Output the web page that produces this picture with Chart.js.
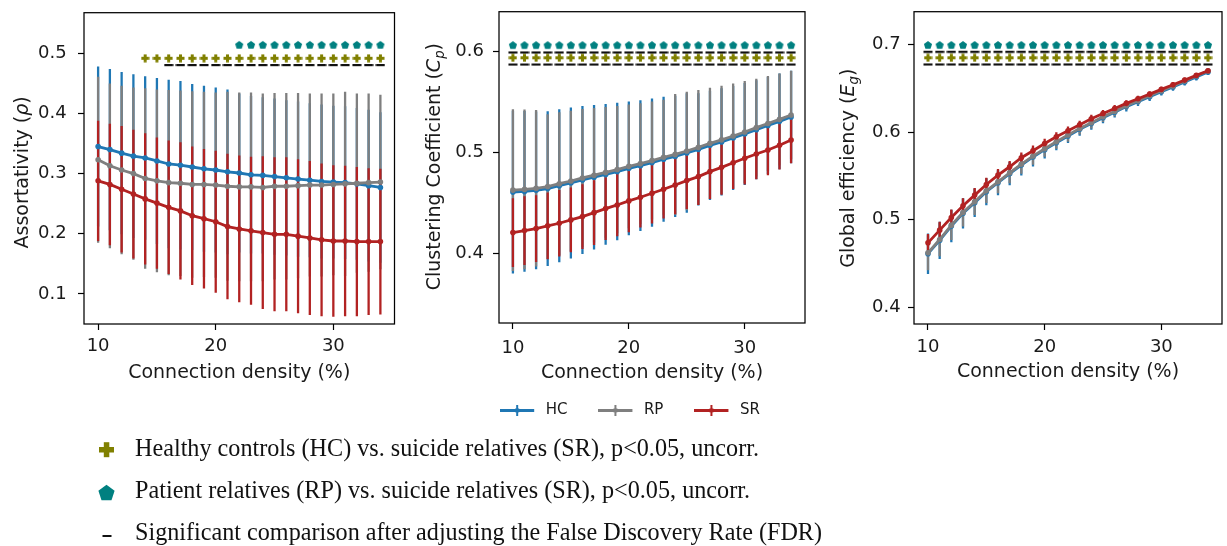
<!DOCTYPE html>
<html>
<head>
<meta charset="utf-8">
<script src="https://cdn.jsdelivr.net/npm/chart.js@4.4.1/dist/chart.umd.min.js"></script>
<style>
  body { margin: 0; background: #fff; }
  #page { position: relative; width: 1227px; height: 546px; overflow: hidden; background: #fff; }
  .panel { position: absolute; top: 0; }
  #notes { position: absolute; left: 0; top: 420px; }
</style>
</head>
<body>
<div id="page">
  <div class="panel" style="left:0;width:400px;height:395px"><canvas id="assort"></canvas></div>
  <div class="panel" style="left:410px;width:400px;height:428px"><canvas id="cluster"></canvas></div>
  <div class="panel" style="left:820px;width:407px;height:395px"><canvas id="globalEff"></canvas></div>
  <svg id="notes" width="900" height="126" xmlns="http://www.w3.org/2000/svg">
    <rect x="99" y="27" width="15" height="5.5" fill="#808000"/>
    <rect x="103.8" y="22.2" width="5.5" height="15" fill="#808000"/>
    <polygon points="106.5,64.8 114.6,70.7 111.5,80.2 101.5,80.2 98.4,70.7" fill="#008080"/>
    <rect x="102.5" y="115" width="9" height="2" fill="#111"/>
    <g font-family="'Liberation Serif', 'Times New Roman', serif" font-size="26" fill="#111">
      <text x="135" y="36" textLength="624" lengthAdjust="spacingAndGlyphs">Healthy controls (HC) vs. suicide relatives (SR), p&lt;0.05, uncorr.</text>
      <text x="135" y="78" textLength="615" lengthAdjust="spacingAndGlyphs">Patient relatives (RP) vs. suicide relatives (SR), p&lt;0.05, uncorr.</text>
      <text x="135" y="120" textLength="687" lengthAdjust="spacingAndGlyphs">Significant comparison after adjusting the False Discovery Rate (FDR)</text>
    </g>
  </svg>
</div>
<script>
// connection density (%), shared by all panels
const density = [10, 11, 12, 13, 14, 15, 16, 17, 18, 19, 20, 21, 22, 23, 24, 25, 26, 27, 28, 29, 30, 31, 32, 33, 34];
const xTicks = [10, 20, 30];

// Assortativity
const assortHC = [0.345, 0.340, 0.334, 0.329, 0.326, 0.321, 0.316, 0.314, 0.311, 0.308, 0.306, 0.303, 0.301, 0.298, 0.297, 0.295, 0.293, 0.291, 0.289, 0.287, 0.286, 0.285, 0.283, 0.280, 0.277];
const assortHCErr = [0.133, 0.134, 0.135, 0.136, 0.136, 0.138, 0.140, 0.140, 0.138, 0.138, 0.137, 0.137, 0.132, 0.131, 0.130, 0.130, 0.129, 0.129, 0.128, 0.128, 0.127, 0.127, 0.126, 0.126, 0.125];
const assortRP = [0.323, 0.313, 0.306, 0.300, 0.292, 0.288, 0.285, 0.284, 0.282, 0.282, 0.281, 0.279, 0.278, 0.278, 0.277, 0.279, 0.279, 0.280, 0.281, 0.281, 0.282, 0.283, 0.284, 0.285, 0.286];
const assortRPErr = [0.138, 0.137, 0.140, 0.143, 0.150, 0.152, 0.154, 0.154, 0.155, 0.154, 0.154, 0.157, 0.157, 0.157, 0.156, 0.155, 0.155, 0.154, 0.152, 0.152, 0.151, 0.153, 0.149, 0.148, 0.145];
const assortSR = [0.288, 0.282, 0.274, 0.266, 0.258, 0.251, 0.244, 0.238, 0.230, 0.225, 0.220, 0.212, 0.208, 0.205, 0.202, 0.199, 0.199, 0.196, 0.193, 0.190, 0.188, 0.188, 0.187, 0.187, 0.187];
const assortSRErr = [0.100, 0.101, 0.105, 0.107, 0.109, 0.109, 0.111, 0.114, 0.115, 0.116, 0.118, 0.121, 0.122, 0.123, 0.127, 0.128, 0.128, 0.128, 0.128, 0.127, 0.126, 0.125, 0.124, 0.122, 0.121];
const assortSigHcSr = [14, 15, 16, 17, 18, 19, 20, 21, 22, 23, 24, 25, 26, 27, 28, 29, 30, 31, 32, 33, 34];
const assortSigRpSr = [22, 23, 24, 25, 26, 27, 28, 29, 30, 31, 32, 33, 34];
const assortFdrHcSr = [16, 17, 18, 19, 20, 21, 22, 23, 24, 25, 26, 27, 28, 29, 30, 31, 32, 33, 34];
const assortTicks = [0.1, 0.2, 0.3, 0.4, 0.5];

// Clustering coefficient
const clusterHC = [0.4605, 0.4612, 0.4623, 0.4640, 0.4668, 0.4695, 0.4725, 0.4752, 0.4780, 0.4808, 0.4840, 0.4867, 0.4897, 0.4930, 0.4958, 0.4992, 0.5028, 0.5068, 0.5102, 0.5140, 0.5180, 0.5223, 0.5264, 0.5305, 0.5348];
const clusterHCErr = [0.0805, 0.0795, 0.0780, 0.0766, 0.0758, 0.0746, 0.0733, 0.0715, 0.0697, 0.0680, 0.0662, 0.0647, 0.0634, 0.0618, 0.0600, 0.0590, 0.0556, 0.0540, 0.0530, 0.0514, 0.0504, 0.0490, 0.0480, 0.0474, 0.0458];
const clusterRP = [0.4625, 0.4632, 0.4643, 0.4660, 0.4688, 0.4715, 0.4745, 0.4772, 0.4800, 0.4828, 0.4860, 0.4887, 0.4917, 0.4950, 0.4978, 0.5012, 0.5048, 0.5088, 0.5122, 0.5160, 0.5200, 0.5243, 0.5284, 0.5325, 0.5368];
const clusterRPErr = [0.0800, 0.0790, 0.0775, 0.0716, 0.0708, 0.0696, 0.0683, 0.0665, 0.0647, 0.0630, 0.0612, 0.0597, 0.0584, 0.0568, 0.0597, 0.0586, 0.0567, 0.0550, 0.0535, 0.0520, 0.0504, 0.0484, 0.0469, 0.0454, 0.0438];
const clusterSR = [0.4205, 0.4225, 0.4244, 0.4271, 0.4297, 0.4330, 0.4363, 0.4402, 0.4442, 0.4478, 0.4518, 0.4554, 0.4594, 0.4633, 0.4676, 0.4719, 0.4758, 0.4808, 0.4850, 0.4896, 0.4940, 0.4982, 0.5022, 0.5068, 0.5120];
const clusterSRErr = [0.034, 0.034, 0.033, 0.033, 0.033, 0.032, 0.032, 0.032, 0.031, 0.031, 0.031, 0.030, 0.030, 0.029, 0.029, 0.028, 0.028, 0.027, 0.027, 0.026, 0.026, 0.025, 0.025, 0.024, 0.023];
const clusterTicks = [0.4, 0.5, 0.6];

// Global efficiency
const effHC = [0.4613, 0.4765, 0.4929, 0.5074, 0.5196, 0.5321, 0.5424, 0.5527, 0.5626, 0.5718, 0.5801, 0.5881, 0.5958, 0.6034, 0.6099, 0.6167, 0.6228, 0.6293, 0.6350, 0.6407, 0.6464, 0.6518, 0.6575, 0.6632, 0.6689];
const effHCErr = [0.0232, 0.0214, 0.0185, 0.0172, 0.0163, 0.0154, 0.0143, 0.0133, 0.0120, 0.0110, 0.0100, 0.0086, 0.0080, 0.0075, 0.0070, 0.0065, 0.0060, 0.0055, 0.0050, 0.0050, 0.0045, 0.0045, 0.0040, 0.0040, 0.0035];
const effRP = [0.4623, 0.4775, 0.4939, 0.5084, 0.5206, 0.5331, 0.5434, 0.5537, 0.5636, 0.5728, 0.5811, 0.5891, 0.5968, 0.6044, 0.6109, 0.6177, 0.6238, 0.6303, 0.6360, 0.6417, 0.6474, 0.6528, 0.6585, 0.6642, 0.6699];
const effRPErr = [0.0200, 0.0190, 0.0170, 0.0160, 0.0150, 0.0140, 0.0130, 0.0120, 0.0110, 0.0100, 0.0090, 0.0080, 0.0075, 0.0070, 0.0065, 0.0060, 0.0055, 0.0050, 0.0045, 0.0045, 0.0040, 0.0040, 0.0035, 0.0035, 0.0030];
const effSR = [0.4737, 0.4882, 0.5027, 0.5160, 0.5282, 0.5404, 0.5510, 0.5606, 0.5709, 0.5789, 0.5872, 0.5949, 0.6017, 0.6086, 0.6154, 0.6215, 0.6272, 0.6330, 0.6383, 0.6436, 0.6490, 0.6543, 0.6596, 0.6650, 0.6703];
const effSRErr = [0.0100, 0.0095, 0.0090, 0.0085, 0.0080, 0.0075, 0.0070, 0.0065, 0.0060, 0.0060, 0.0055, 0.0050, 0.0050, 0.0045, 0.0045, 0.0040, 0.0040, 0.0035, 0.0035, 0.0030, 0.0030, 0.0030, 0.0030, 0.0025, 0.0025];
const effTicks = [0.4, 0.5, 0.6, 0.7];

const BLUE = '#1f77b4', GRAY = '#7f7f7f', RED = '#b22222', TEAL = '#008080', OLIVE = '#808000';
const TEXT = '#1a1a1a';
const FONT = 'DejaVu Sans';
const TITLE_SIZE = 19;

function offscreen(w, h, draw) {
  const c = document.createElement('canvas');
  c.width = w; c.height = h;
  draw(c.getContext('2d'));
  return c;
}
const pentagon = offscreen(10, 10, g => {
  g.fillStyle = TEAL;
  g.beginPath();
  for (let k = 0; k < 5; k++) {
    const a = -Math.PI / 2 + k * 2 * Math.PI / 5;
    g.lineTo(5 + 4.3 * Math.cos(a), 5.3 + 4.3 * Math.sin(a));
  }
  g.fill();
});
const plus = offscreen(9, 9, g => {
  g.fillStyle = OLIVE;
  g.fillRect(0.5, 3, 8, 3);
  g.fillRect(3, 0.5, 3, 8);
});
const dash = offscreen(10, 4, g => {
  g.fillStyle = '#111';
  g.fillRect(0.5, 1, 9, 2.2);
});
function legendIcon(color) {
  return offscreen(38, 15, g => {
    g.strokeStyle = color;
    g.lineWidth = 2.8;
    g.beginPath(); g.moveTo(0, 7.5); g.lineTo(34, 7.5); g.stroke();
    g.lineWidth = 2;
    g.beginPath(); g.moveTo(17, 2); g.lineTo(17, 13); g.stroke();
    g.fillStyle = color;
    g.beginPath(); g.arc(17, 7.5, 2.4, 0, 2 * Math.PI); g.fill();
  });
}

// error bars under the lines, frame and the mathtext-like y label
const panelExtras = {
  id: 'panelExtras',
  beforeDatasetsDraw(chart) {
    const {ctx, chartArea: a, scales: {x, y}} = chart;
    ctx.save();
    ctx.beginPath();
    ctx.rect(a.left, a.top, a.right - a.left, a.bottom - a.top);
    ctx.clip();
    ctx.lineWidth = 2.3;
    chart.data.datasets.forEach(ds => {
      if (!ds.errors) return;
      ctx.strokeStyle = ds.borderColor;
      ds.data.forEach((p, i) => {
        const px = x.getPixelForValue(p.x);
        ctx.beginPath();
        ctx.moveTo(px, y.getPixelForValue(p.y - ds.errors[i]));
        ctx.lineTo(px, y.getPixelForValue(p.y + ds.errors[i]));
        ctx.stroke();
      });
    });
    ctx.restore();
  },
  afterDraw(chart, args, opts) {
    const {ctx, chartArea: a} = chart;
    ctx.save();
    ctx.strokeStyle = '#000';
    ctx.lineWidth = 1.25;
    ctx.strokeRect(a.left, a.top, a.right - a.left, a.bottom - a.top);

    const base = TITLE_SIZE;
    const parts = opts.title.map(([text, kind]) => ({
      text,
      font: (kind === 'n' ? '' : 'italic ') + (kind === 'sub' ? base * 0.7 : base) + 'px "' + FONT + '"',
      shift: kind === 'sub' ? base * 0.25 : 0
    }));
    let total = 0;
    parts.forEach(p => { ctx.font = p.font; p.w = ctx.measureText(p.text).width; total += p.w; });
    ctx.translate(opts.titleX, (a.top + a.bottom) / 2 + opts.titleDy);
    ctx.rotate(-Math.PI / 2);
    ctx.fillStyle = TEXT;
    ctx.textBaseline = 'alphabetic';
    ctx.textAlign = 'left';
    let u = -total / 2;
    parts.forEach(p => { ctx.font = p.font; ctx.fillText(p.text, u, 6.3 + p.shift); u += p.w; });
    ctx.restore();
  }
};

function buildPanel(id, cfg) {
  const series = [
    {label: 'HC', color: BLUE, mean: cfg.hc, err: cfg.hcErr},
    {label: 'RP', color: GRAY, mean: cfg.rp, err: cfg.rpErr},
    {label: 'SR', color: RED, mean: cfg.sr, err: cfg.srErr}
  ];
  const datasets = series.map((s, i) => ({
    label: s.label,
    data: density.map((d, k) => ({x: d, y: s.mean[k]})),
    errors: s.err,
    legendIcon: legendIcon(s.color),
    borderColor: s.color,
    backgroundColor: s.color,
    borderWidth: 2.8,
    pointRadius: 2.8,
    pointBorderWidth: 0,
    pointBackgroundColor: s.color,
    tension: 0,
    order: 3 - i
  }));
  cfg.marks.forEach(m => datasets.push({
    label: '',
    data: m.xs.map(v => ({x: v, y: m.level})),
    showLine: false,
    pointStyle: m.style,
    pointRadius: 4,
    order: 0
  }));
  const L = cfg.layout;
  const noPad = s => { s.paddingLeft = 0; s.paddingRight = 0; s.paddingTop = 0; s.paddingBottom = 0; };
  const tickGrid = {drawOnChartArea: false, drawTicks: true, tickLength: 6, tickWidth: 1.2, tickColor: '#000'};

  return new Chart(document.getElementById(id), {
    type: 'line',
    data: {datasets},
    plugins: [panelExtras],
    options: {
      responsive: true,
      maintainAspectRatio: false,
      animation: false,
      events: [],
      layout: {padding: {left: L.padLeft, top: L.padTop, right: L.padRight, bottom: 0}},
      scales: {
        x: {
          type: 'linear',
          min: 8.8, max: 35.2,
          afterBuildTicks: s => { s.ticks = xTicks.map(v => ({value: v})); },
          afterFit: s => { s.height = L.xHeight; noPad(s); },
          grid: tickGrid,
          border: {display: false},
          ticks: {font: {family: FONT, size: 18}, color: TEXT, padding: L.xTickPad, maxRotation: 0, autoSkip: false,
                  callback: v => String(v)},
          title: {display: true, text: 'Connection density (%)', color: TEXT,
                  font: {family: FONT, size: TITLE_SIZE}, padding: {top: 0, bottom: L.xTitlePad}}
        },
        y: {
          type: 'linear',
          min: cfg.yMin, max: cfg.yMax,
          afterBuildTicks: s => { s.ticks = cfg.yTicks.map(v => ({value: v})); },
          afterFit: s => { s.width = L.yWidth; noPad(s); },
          grid: tickGrid,
          border: {display: false},
          ticks: {font: {family: FONT, size: 18}, color: TEXT, padding: L.yTickPad, callback: v => v.toFixed(1)}
        }
      },
      plugins: {
        tooltip: {enabled: false},
        panelExtras: {title: cfg.title, titleX: L.titleX, titleDy: L.titleDy},
        legend: {
          display: !!cfg.legend,
          position: 'bottom',
          align: 'center',
          labels: {
            usePointStyle: true,
            pointStyleWidth: 38,
            padding: 31,
            color: TEXT,
            font: {family: FONT, size: 15},
            generateLabels: chart => chart.data.datasets
              .filter(ds => ds.legendIcon)
              .map(ds => ({
                text: ds.label, pointStyle: ds.legendIcon, fillStyle: ds.borderColor,
                strokeStyle: ds.borderColor, lineWidth: 0, hidden: false, fontColor: TEXT,
                datasetIndex: chart.data.datasets.indexOf(ds)
              }))
          }
        }
      }
    }
  });
}

buildPanel('assort', {
  hc: assortHC, hcErr: assortHCErr, rp: assortRP, rpErr: assortRPErr, sr: assortSR, srErr: assortSRErr,
  yMin: 0.05, yMax: 0.5675, yTicks: assortTicks,
  title: [['Assortativity (', 'n'], ['\u03c1', 'i'], [')', 'n']],
  marks: [
    {xs: assortSigRpSr, level: 0.514, style: pentagon},
    {xs: assortSigHcSr, level: 0.4917, style: plus},
    {xs: assortFdrHcSr, level: 0.4806, style: dash}
  ],
  layout: {padLeft: 0, padTop: 12.7, padRight: 5.5, yWidth: 84, xHeight: 71, yTickPad: 11.4,
           xTickPad: 5.9, xTitlePad: 10.8, titleX: 21.2, titleDy: 4}
});

buildPanel('cluster', {
  hc: clusterHC, hcErr: clusterHCErr, rp: clusterRP, rpErr: clusterRPErr, sr: clusterSR, srErr: clusterSRErr,
  yMin: 0.331, yMax: 0.639, yTicks: clusterTicks,
  title: [['Clustering Coefficient (', 'n'], ['C', 'i'], ['p', 'sub'], [')', 'n']],
  marks: [
    {xs: density, level: 0.6059, style: pentagon},
    {xs: density, level: 0.5987, style: dash},
    {xs: density, level: 0.5934, style: plus},
    {xs: density, level: 0.5868, style: dash}
  ],
  legend: true,
  layout: {padLeft: 41, padTop: 11.7, padRight: 1, yWidth: 48, xHeight: 49, yTickPad: 9,
           xTickPad: 8.5, xTitlePad: -12.4, titleX: 23.2, titleDy: -0.7}
});

buildPanel('globalEff', {
  hc: effHC, hcErr: effHCErr, rp: effRP, rpErr: effRPErr, sr: effSR, srErr: effSRErr,
  yMin: 0.381, yMax: 0.7377, yTicks: effTicks,
  title: [['Global efficiency (', 'n'], ['E', 'i'], ['g', 'sub'], [')', 'n']],
  marks: [
    {xs: density, level: 0.6996, style: pentagon},
    {xs: density, level: 0.692, style: dash},
    {xs: density, level: 0.6851, style: plus},
    {xs: density, level: 0.6775, style: dash}
  ],
  layout: {padLeft: 0, padTop: 11.7, padRight: 3, yWidth: 94, xHeight: 71, yTickPad: 7.4,
           xTickPad: 6.5, xTitlePad: 11.5, titleX: 27.2, titleDy: 0.4}
});
</script>
</body>
</html>
